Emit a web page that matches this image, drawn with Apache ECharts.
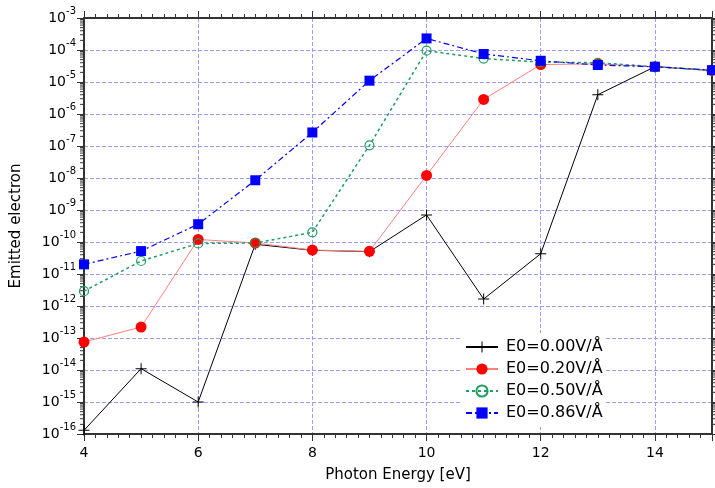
<!DOCTYPE html>
<html>
<head>
<meta charset="utf-8">
<script src="https://cdn.jsdelivr.net/npm/echarts@6/dist/echarts.min.js"></script>
<style>html,body{margin:0;padding:0;background:#fff;}#c{width:715px;height:488px;}</style>
</head>
<body>
<div id="c"></div>
<script>
// ---- data ----
var photonEnergy = [4, 5, 6, 7, 8, 9, 10, 11, 12, 13, 14, 15];
var seriesNames = ['E0=0.00V/Å', 'E0=0.20V/Å', 'E0=0.50V/Å', 'E0=0.86V/Å'];
var e000 = [1.3e-16, 1.1e-14, 1.0e-15, 8.5e-11, 5.5e-11, 5.0e-11, 7.0e-10, 1.65e-12, 4.3e-11, 4.0e-6, 3.0e-5, 2.3e-5];
var e020 = [7.5e-14, 2.2e-13, 1.2e-10, 9.3e-11, 5.6e-11, 5.1e-11, 1.2e-8, 2.85e-6, 3.5e-5, 3.7e-5, 3.0e-5, 2.3e-5];
var e050 = [2.9e-12, 2.55e-11, 9.0e-11, 9.3e-11, 2.0e-10, 1.05e-7, 9.5e-5, 5.4e-5, 4.2e-5, 4.0e-5, 3.0e-5, 2.3e-5];
var e086 = [2.0e-11, 5.2e-11, 3.6e-10, 8.5e-9, 2.65e-7, 1.1e-5, 2.3e-4, 7.5e-5, 4.6e-5, 3.4e-5, 3.0e-5, 2.35e-5];
var xTicks = [4, 6, 8, 10, 12, 14];
var yMinExp = -16, yMaxExp = -3;

// minor log ticks (2..9 in each decade) - axis decoration
var minorLog = [];
for (var d = yMinExp; d < yMaxExp; d++) {
  for (var m = 2; m <= 9; m++) minorLog.push([4, m * Math.pow(10, d)]);
}

function pairs(arr) { return photonEnergy.map(function (x, i) { return [x, arr[i]]; }); }

var FONT = 'DejaVu Sans';
var gridColor = '#9c9cff';
var axisColor = '#333';

var chart = echarts.init(document.getElementById('c'), null, {renderer: 'canvas'});

var plusPath = 'path://M-0.45,-5 L0.45,-5 L0.45,-0.45 L5,-0.45 L5,0.45 L0.45,0.45 L0.45,5 L-0.45,5 L-0.45,0.45 L-5,0.45 L-5,-0.45 L-0.45,-0.45 Z';

var option = {
  animation: false,
  backgroundColor: '#fff',
  textStyle: {fontFamily: FONT},
  grid: {left: 84, right: 3, top: 18, bottom: 52, containLabel: false},
  legend: {
    data: seriesNames,
    orient: 'vertical',
    left: 462,
    top: 333,
    padding: [6, 2, 6, 3],
    backgroundColor: '#fff',
    itemWidth: 32,
    itemHeight: 14,
    itemGap: 6,
    textStyle: {fontFamily: FONT, fontSize: 16, color: '#000', lineHeight: 16, padding: [0, 0, 0, 3]}
  },
  xAxis: [{
    type: 'value', min: 4, max: 15, interval: 2, position: 'bottom',
    name: 'Photon Energy [eV]', nameLocation: 'middle', nameGap: 34,
    nameTextStyle: {fontFamily: FONT, fontSize: 15, color: '#000'},
    axisLine: {show: true, onZero: false, lineStyle: {color: axisColor, width: 2}},
    axisTick: {show: true, inside: false, length: 7, lineStyle: {color: axisColor, width: 1}},
    minorTick: {show: true, splitNumber: 10, length: 4, lineStyle: {color: axisColor, width: 1}},
    axisLabel: {fontFamily: FONT, fontSize: 14, color: '#000', margin: 12, showMaxLabel: false,
      formatter: function (v) { return xTicks.indexOf(v) >= 0 ? String(v) : ''; }},
    splitLine: {show: true, lineStyle: {color: gridColor, type: [4, 2], width: 1}}
  }, {
    type: 'value', min: 4, max: 15, interval: 2, position: 'top',
    axisLine: {show: true, onZero: false, lineStyle: {color: axisColor, width: 2}},
    axisTick: {show: true, inside: false, length: 7, lineStyle: {color: axisColor, width: 1}},
    minorTick: {show: true, splitNumber: 10, length: 4, lineStyle: {color: axisColor, width: 1}},
    axisLabel: {show: false},
    splitLine: {show: false}
  }],
  yAxis: [{
    type: 'log', logBase: 10, min: Math.pow(10, yMinExp), max: Math.pow(10, yMaxExp), interval: 1,
    position: 'left',
    name: 'Emitted electron', nameLocation: 'middle', nameGap: 60,
    nameTextStyle: {fontFamily: FONT, fontSize: 15, color: '#000'},
    axisLine: {show: true, onZero: false, lineStyle: {color: axisColor, width: 2}},
    axisTick: {show: true, inside: false, length: 7, lineStyle: {color: axisColor, width: 1}},
    axisLabel: {
      margin: 8, color: '#000',
      formatter: function (v) {
        var e = Math.round(Math.log10(v));
        return '{b|10}{s|' + e + '}';
      },
      rich: {
        b: {fontFamily: FONT, fontSize: 14, color: '#000', lineHeight: 24, verticalAlign: 'middle'},
        s: {fontFamily: FONT, fontSize: 10, color: '#000', verticalAlign: 'top', lineHeight: 12}
      }
    },
    splitLine: {show: true, lineStyle: {color: gridColor, type: [4, 2], width: 1}}
  }, {
    type: 'log', logBase: 10, min: Math.pow(10, yMinExp), max: Math.pow(10, yMaxExp), interval: 1,
    position: 'right',
    axisLine: {show: true, onZero: false, lineStyle: {color: axisColor, width: 2}},
    axisTick: {show: true, inside: false, length: 7, lineStyle: {color: axisColor, width: 1}},
    axisLabel: {show: false},
    splitLine: {show: false}
  }],
  series: [
    {
      type: 'custom', name: '_minor', silent: true, clip: false,
      xAxisIndex: 0, yAxisIndex: 0, data: minorLog, z: 1,
      renderItem: function (params, api) {
        var v = api.value(1);
        var pL = api.coord([4, v]);
        var pR = api.coord([15, v]);
        return {type: 'group', children: [
          {type: 'line', shape: {x1: pL[0] - 4, y1: pL[1], x2: pL[0], y2: pL[1]}, style: {stroke: axisColor, lineWidth: 1}},
          {type: 'line', shape: {x1: pR[0], y1: pR[1], x2: pR[0] + 4, y2: pR[1]}, style: {stroke: axisColor, lineWidth: 1}}
        ]};
      }
    },
    {
      name: seriesNames[0], type: 'line', data: pairs(e000),
      symbol: plusPath, symbolSize: 11,
      lineStyle: {color: '#000', width: 1, type: 'solid'},
      itemStyle: {color: '#000'}
    },
    {
      name: seriesNames[1], type: 'line', data: pairs(e020),
      symbol: 'circle', symbolSize: 11,
      lineStyle: {color: '#ff7f7f', width: 1, type: 'solid'},
      itemStyle: {color: '#ff0000'}
    },
    {
      name: seriesNames[2], type: 'line', data: pairs(e050),
      symbol: 'circle', symbolSize: 9,
      lineStyle: {color: '#1e9e5e', width: 1.5, type: [3, 3]},
      itemStyle: {color: 'rgba(255,255,255,0)', borderColor: '#1e9e5e', borderWidth: 1.2}
    },
    {
      name: seriesNames[3], type: 'line', data: pairs(e086),
      symbol: 'rect', symbolSize: 10,
      lineStyle: {color: '#0000ff', width: 1.2, type: [6, 3, 2, 3]},
      itemStyle: {color: '#0000ff'}
    }
  ]
};
chart.setOption(option);
</script>
</body>
</html>
